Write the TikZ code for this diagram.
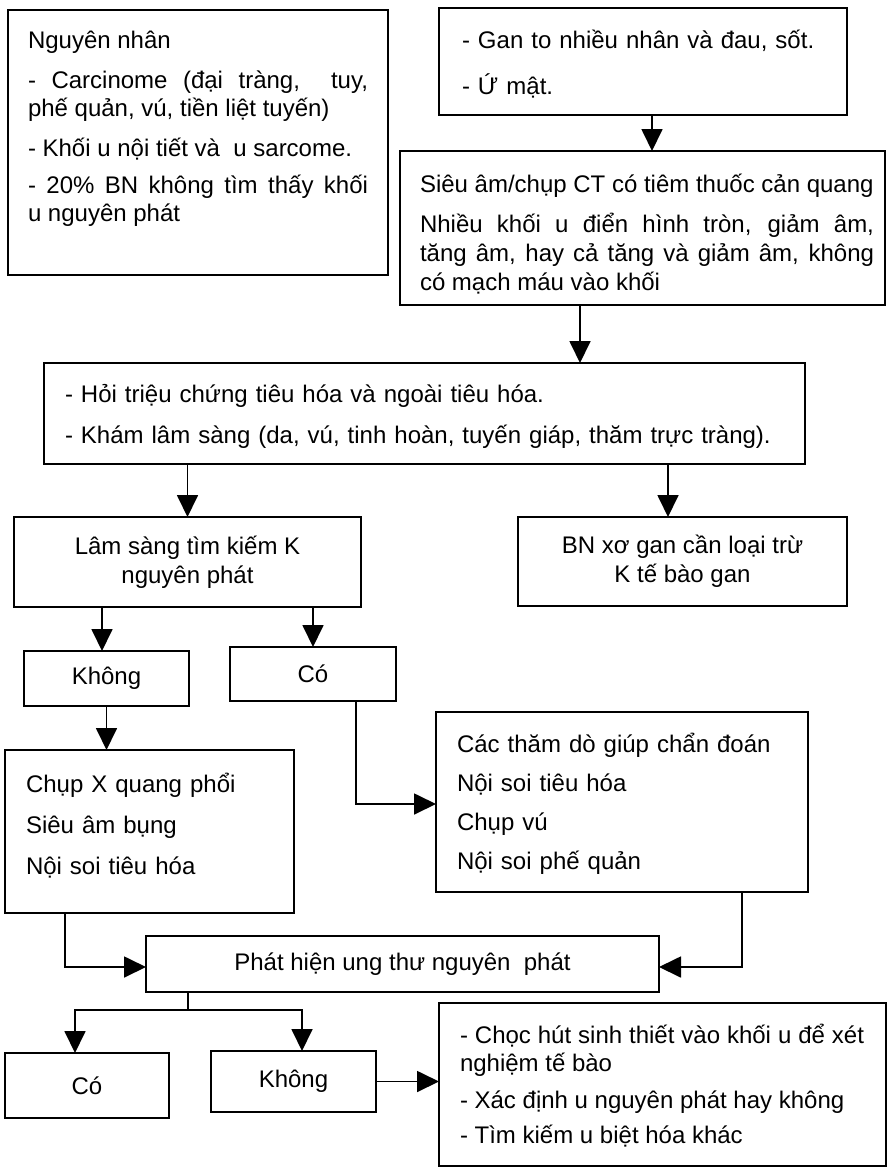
\documentclass[tikz,border=0pt]{standalone}
\usepackage{fontspec}
\setmainfont{Liberation Sans}
\usetikzlibrary{arrows.meta}

\begin{document}
\begin{tikzpicture}[x=1pt,y=-1pt,
  box/.style={draw, line width=1.8pt, inner sep=0pt, outer sep=0pt, anchor=north west},
  lbl/.style={font=\fontsize{24}{28}\selectfont, inner sep=0pt, outer sep=0pt, anchor=base west},
  ctr/.style={font=\fontsize{24}{29}\selectfont, align=center},
  arr/.style={line width=1.8pt, -{Triangle[width=21pt,length=22pt]}},
  ln/.style={line width=1.8pt}]

\useasboundingbox[fill=white] (0,0) rectangle (887,1167);

% boxes
\node[box, minimum width=380pt, minimum height=265pt] (cause) at (8,10) {};
\node[box, minimum width=408pt, minimum height=107pt] (gan) at (439,8) {};
\node[box, minimum width=485pt, minimum height=154pt] (sieuam) at (400,151) {};
\node[box, minimum width=761pt, minimum height=101pt] (hoi) at (44,363) {};
\node[box, ctr, minimum width=347pt, minimum height=90pt] (lamsang) at (14,517) {Lâm sàng tìm kiếm K\\nguyên phát};
\node[box, ctr, minimum width=329pt, minimum height=89pt] (xogan) at (518,517) {BN xơ gan cần loại trừ\\K tế bào gan};
\node[box, ctr, minimum width=165pt, minimum height=55pt] (khong1) at (24,651) {Không};
\node[box, ctr, minimum width=166pt, minimum height=54pt] (co1) at (230,647) {Có};
\node[box, minimum width=289pt, minimum height=163pt] (chupx) at (5,750) {};
\node[box, minimum width=372pt, minimum height=180pt] (thamdo) at (436,712) {};
\node[box, ctr, minimum width=513pt, minimum height=56pt] (phathien) at (146,936) {Phát hiện ung thư nguyên\ \ phát};
\node[box, ctr, minimum width=164pt, minimum height=65pt] (co2) at (5,1053) {Có};
\node[box, ctr, minimum width=165pt, minimum height=61pt] (khong2) at (211,1051) {Không};
\node[box, minimum width=447pt, minimum height=163pt] (sinhthiet) at (439,1003) {};

% box texts
\node[lbl, text width=340pt, align=justify] (causetext) at (28,48)
  {Nguyên nhân\par\vspace{12pt}- Carcinome (đại tràng,\ \ tuy,\linebreak phế quản, vú, tiền liệt tuyến)\par\vspace{12pt}- Khối u nội tiết và\ \ u sarcome.\par\vspace{9pt}- 20\% BN không tìm thấy khối\linebreak u nguyên phát};
\node[lbl, text width=380pt, align=left] (gantext) at (462,48)
  {- Gan to nhiều nhân và đau, sốt.\\[19pt]- Ứ mật.};
\node[lbl, font=\fontsize{24}{29}\selectfont, text width=454pt, align=justify] (sieuamtext) at (420,192)
  {Siêu âm/chụp CT có tiêm thuốc cản quang\par\vspace{11pt}Nhiều khối u điển hình tròn, giảm âm,\linebreak tăng âm, hay cả tăng và giảm âm, không\linebreak có mạch máu vào khối};
\node[lbl, text width=730pt, align=left] (hoitext) at (65,402)
  {- Hỏi triệu chứng tiêu hóa và ngoài tiêu hóa.\\[13pt]- Khám lâm sàng (da, vú, tinh hoàn, tuyến giáp, thăm trực tràng).};
\node[lbl, text width=260pt, align=left] (chupxtext) at (26,792)
  {Chụp X quang phổi\\[13pt]Siêu âm bụng\\[13pt]Nội soi tiêu hóa};
\node[lbl, text width=340pt, align=left] (thamdotext) at (457,752)
  {Các thăm dò giúp chẩn đoán\\[11pt]Nội soi tiêu hóa\\[11pt]Chụp vú\\[11pt]Nội soi phế quản};
\node[lbl, text width=404pt, align=justify] (sinhthiettext) at (460,1043)
  {- Chọc hút sinh thiết vào khối u để xét\linebreak nghiệm tế bào\par\vspace{9pt}- Xác định u nguyên phát hay không\par\vspace{7pt}- Tìm kiếm u biệt hóa khác};

% connector positions
\coordinate (a1) at (652,0);
\coordinate (a2) at (580,0);
\coordinate (a3) at (668,0);
\coordinate (a4) at (102,0);
\coordinate (k1) at (356,804);
\coordinate (k2) at (65,967);
\coordinate (k3) at (742,967);
\coordinate (k4) at (188,1010);
\coordinate (k5) at (75,1010);
\coordinate (k6) at (302,1010);

% connectors
\draw[arr] (gan.south -| a1) -- (sieuam.north -| a1);
\draw[arr] (sieuam.south -| a2) -- (hoi.north -| a2);
\draw[arr] (hoi.south -| lamsang.north) -- (lamsang.north);
\draw[arr] (hoi.south -| a3) -- (xogan.north -| a3);
\draw[arr] (lamsang.south -| a4) -- (khong1.north -| a4);
\draw[arr] (lamsang.south -| co1.north) -- (co1.north);
\draw[arr] (khong1.south) -- (chupx.north -| khong1.south);
\draw[arr] (co1.south -| k1) |- (thamdo.west |- k1);
\draw[arr] (chupx.south -| k2) |- (phathien.west |- k2);
\draw[arr] (thamdo.south -| k3) |- (phathien.east |- k3);
\draw[ln] (phathien.south -| k4) -- (k4);
\draw[arr] (k4) -- (k5) -- (co2.north -| k5);
\draw[arr] (k4) -- (k6) -- (khong2.north -| k6);
\draw[arr] (khong2.east) -- (sinhthiet.west |- khong2.east);

\end{tikzpicture}
\end{document}
